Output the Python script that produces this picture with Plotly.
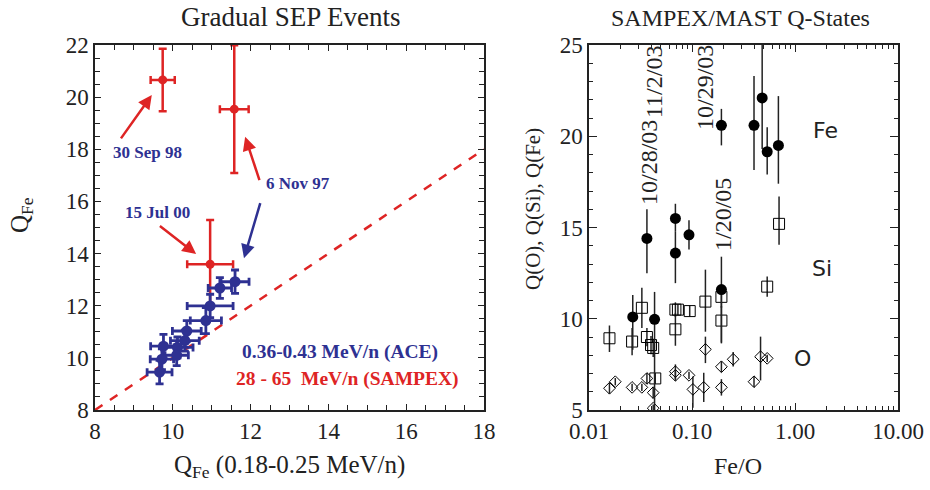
import plotly.graph_objects as go

# ---------------- Left panel: Gradual SEP events ----------------
ace_q_low = [11.60, 11.21, 10.96, 10.85, 10.36, 10.31, 10.12, 9.76, 9.72, 9.66, 10.10]
ace_q_fe = [12.92, 12.68, 11.99, 11.43, 11.03, 10.66, 10.40, 10.45, 9.95, 9.45, 10.10]
ace_ex = [0.36, 0.30, 0.59, 0.40, 0.37, 0.37, 0.40, 0.33, 0.30, 0.32, 0.30]
ace_ey = [0.45, 0.40, 0.45, 0.50, 0.40, 0.40, 0.40, 0.45, 0.40, 0.45, 0.40]

sam_q_low = [9.74, 11.58, 10.96]
sam_q_fe = [20.66, 19.54, 13.59]
sam_ex = [0.31, 0.37, 0.59]
sam_ey = [1.20, 2.45, 1.70]

diag_q = [8, 18]

# ---------------- Right panel: SAMPEX/MAST Q-states ----------------
fe_feo = [0.193, 0.40, 0.48, 0.537, 0.69, 0.0365, 0.069, 0.069, 0.0935, 0.193, 0.0266, 0.0433]
fe_q = [20.6, 20.6, 22.1, 19.15, 19.5, 14.4, 15.5, 13.6, 14.6, 11.6, 10.1, 9.97]
fe_up = [0.9, 2.7, 2.9, 1.35, 2.7, 1.6, 0.8, 1.2, 0.8, 1.8, 1.2, 1.5]
fe_dn = [1.1, 2.45, 2.8, 1.25, 2.1, 1.9, 0.7, 1.65, 0.8, 2.95, 1.8, 5.0]

si_feo = [0.0158, 0.0262, 0.0326, 0.0365, 0.040, 0.042, 0.044, 0.069, 0.073, 0.069, 0.095, 0.135, 0.193, 0.193, 0.537, 0.70]
si_q = [8.93, 8.75, 10.6, 9.0, 8.56, 8.4, 6.73, 10.5, 10.5, 9.42, 10.42, 10.94, 11.2, 9.9, 11.76, 15.2]
si_up = [0.7, 0.75, 1.1, 0.5, 0.5, 0.5, 0.3, 0.4, 0.3, 0.9, 0.3, 1.75, 0.6, 0.8, 0.55, 1.5]
si_dn = [0.75, 0.75, 1.1, 0.5, 0.5, 0.5, 0.3, 0.4, 0.3, 0.9, 0.3, 1.65, 0.6, 1.2, 0.55, 1.15]

o_feo = [0.0158, 0.018, 0.0262, 0.0326, 0.0365, 0.042, 0.042, 0.069, 0.069, 0.0935, 0.102, 0.13, 0.135, 0.193, 0.193, 0.251, 0.40, 0.463, 0.537]
o_q = [6.19, 6.55, 6.24, 6.24, 6.73, 5.95, 5.1, 7.1, 6.9, 6.9, 6.13, 6.24, 8.32, 6.24, 7.37, 7.78, 6.55, 7.92, 7.83]
o_up = [0.3, 0.2, 0.2, 0.2, 0.3, 0.3, 0.2, 0.4, 0.3, 0.2, 0.7, 0.8, 0.7, 0.45, 0.3, 0.4, 0.3, 1.1, 0.2]
o_dn = [0.3, 0.2, 0.2, 0.2, 0.3, 0.3, 0.2, 0.4, 0.3, 0.2, 1.0, 0.8, 0.75, 0.45, 0.3, 0.4, 0.3, 1.3, 0.2]

x_ticks_left = [8, 10, 12, 14, 16, 18]
y_ticks_left = [8, 10, 12, 14, 16, 18, 20, 22]
x_tickvals_right = [0.01, 0.1, 1, 10]
x_ticktext_right = ["0.01", "0.10", "1.00", "10.00"]
y_ticks_right = [5, 10, 15, 20, 25]

RED = "#de2424"
BLUE = "#2e3192"
SERIF = "Liberation Serif, Times New Roman, serif"
SANS = "DejaVu Sans, sans-serif"
INK = "#222"

fig = go.Figure()

fig.add_trace(go.Scatter(x=diag_q, y=diag_q, mode="lines", xaxis="x", yaxis="y",
                         line=dict(color=RED, width=2.5, dash="dash"), showlegend=False))
fig.add_trace(go.Scatter(x=sam_q_low, y=sam_q_fe, mode="markers", xaxis="x", yaxis="y",
                         marker=dict(color=RED, size=9),
                         error_x=dict(type="data", array=sam_ex, color=RED, thickness=2.5, width=4),
                         error_y=dict(type="data", array=sam_ey, color=RED, thickness=2.5, width=4),
                         showlegend=False))
fig.add_trace(go.Scatter(x=ace_q_low, y=ace_q_fe, mode="markers", xaxis="x", yaxis="y",
                         marker=dict(color=BLUE, size=11),
                         error_x=dict(type="data", array=ace_ex, color=BLUE, thickness=2.8, width=4),
                         error_y=dict(type="data", array=ace_ey, color=BLUE, thickness=2.8, width=4),
                         showlegend=False))

fig.add_trace(go.Scatter(x=o_feo, y=o_q, mode="markers", xaxis="x2", yaxis="y2",
                         marker=dict(symbol="diamond-open", color="black", size=9, line=dict(width=1)),
                         error_y=dict(type="data", symmetric=False, array=o_up, arrayminus=o_dn,
                                      color=INK, thickness=1.5, width=0),
                         showlegend=False))
fig.add_trace(go.Scatter(x=si_feo, y=si_q, mode="markers", xaxis="x2", yaxis="y2",
                         marker=dict(symbol="square-open", color="black", size=11, line=dict(width=1)),
                         error_y=dict(type="data", symmetric=False, array=si_up, arrayminus=si_dn,
                                      color=INK, thickness=1.5, width=0),
                         showlegend=False))
fig.add_trace(go.Scatter(x=fe_feo, y=fe_q, mode="markers", xaxis="x2", yaxis="y2",
                         marker=dict(symbol="circle", color="black", size=11),
                         error_y=dict(type="data", symmetric=False, array=fe_up, arrayminus=fe_dn,
                                      color=INK, thickness=1.5, width=0),
                         showlegend=False))

ax_common = dict(showgrid=False, zeroline=False, showline=True, linecolor=INK, linewidth=1.5,
                 mirror="allticks", ticks="inside", tickcolor=INK, tickwidth=1.2, automargin=False)

fig.update_layout(
    width=930, height=490,
    margin=dict(l=0, r=0, t=0, b=0, autoexpand=False),
    paper_bgcolor="white", plot_bgcolor="white",
    xaxis=dict(domain=[95/930, 484/930], range=[8, 18], tickvals=x_ticks_left, ticklen=6,
               tickfont=dict(family=SERIF, size=23, color=INK), anchor="y",
               minor=dict(dtick=0.5, ticks="inside", ticklen=5, tickcolor=INK), **ax_common),
    yaxis=dict(domain=[1-410/490, 1-45/490], range=[8, 22], tickvals=y_ticks_left, ticklen=6,
               tickfont=dict(family=SERIF, size=23, color=INK), anchor="x",
               minor=dict(dtick=0.5, ticks="inside", ticklen=5, tickcolor=INK), **ax_common),
    xaxis2=dict(domain=[589/930, 898/930], type="log", range=[-2, 1], tickvals=x_tickvals_right,
                ticktext=x_ticktext_right, ticklen=7,
                tickfont=dict(family=SERIF, size=23, color=INK), anchor="y2",
                minor=dict(dtick="D1", ticks="inside", ticklen=4, tickcolor=INK), **ax_common),
    yaxis2=dict(domain=[1-410/490, 1-45/490], range=[5, 25], tickvals=y_ticks_right, ticklen=8,
                tickfont=dict(family=SERIF, size=23, color=INK), anchor="x2",
                minor=dict(dtick=1, ticks="inside", ticklen=4, tickcolor=INK), **ax_common),
)

ann = []


def paper_text(txt, px, py, size, family=SERIF, angle=0, color=INK):
    ann.append(dict(text=txt, x=px/930, y=1-py/490, xref="paper", yref="paper",
                    xanchor="center", yanchor="middle", showarrow=False, textangle=angle,
                    font=dict(family=family, size=size, color=color)))


# titles
paper_text("Gradual SEP Events", 290, 17, 27)
paper_text("SAMPEX/MAST Q-States", 740, 18, 24)
# axis titles
paper_text("Q<sub>Fe</sub>", 22, 215, 25, angle=-90)
paper_text("Q<sub>Fe</sub> (0.18-0.25 MeV/n)", 289, 466, 25)
paper_text("Q(O), Q(Si), Q(Fe)", 533, 209, 21, angle=-90)
paper_text("Fe/O", 738, 466, 24)

# left panel labels
for txt, x, y, col, sz in [("30 Sep 98", 9.36, 17.86, BLUE, 17), ("6 Nov 97", 13.22, 16.67, BLUE, 17),
                           ("15 Jul 00", 9.6, 15.56, BLUE, 17),
                           ("0.36-0.43 MeV/n (ACE)", 14.3, 10.22, BLUE, 19.5),
                           ("28 - 65  MeV/n (SAMPEX)", 14.48, 9.19, RED, 19.5)]:
    ann.append(dict(text="<b>" + txt.replace("  ", "&nbsp; ") + "</b>", x=x, y=y, xref="x", yref="y",
                    xanchor="center", yanchor="middle",
                    showarrow=False, font=dict(family=SERIF, size=sz, color=col)))

# arrows (head x,y ; tail ax,ay)
for hx, hy, tx, ty, col in [(9.46, 20.08, 8.64, 18.36, RED), (11.86, 18.48, 12.24, 16.76, RED),
                            (11.83, 13.82, 12.26, 15.99, BLUE), (10.6, 13.98, 9.63, 15.1, RED)]:
    ann.append(dict(text="", x=hx, y=hy, ax=tx, ay=ty, xref="x", yref="y", axref="x", ayref="y",
                    showarrow=True, arrowhead=2, arrowsize=1.1, arrowwidth=2.5, arrowcolor=col,
                    standoff=0, startstandoff=0))

# right panel labels
for txt, px, py in [("10/28/03", 649, 163), ("11/2/03", 654, 82), ("10/29/03", 705, 88), ("1/20/05", 723, 215)]:
    paper_text(txt, px, py, 24, angle=-90)
for txt, px, py in [("Fe", 825, 130), ("Si", 822, 268), ("O", 802, 358)]:
    paper_text(txt, px, py, 22, family=SANS)

fig.update_layout(annotations=ann)
fig.write_html("out.html")
